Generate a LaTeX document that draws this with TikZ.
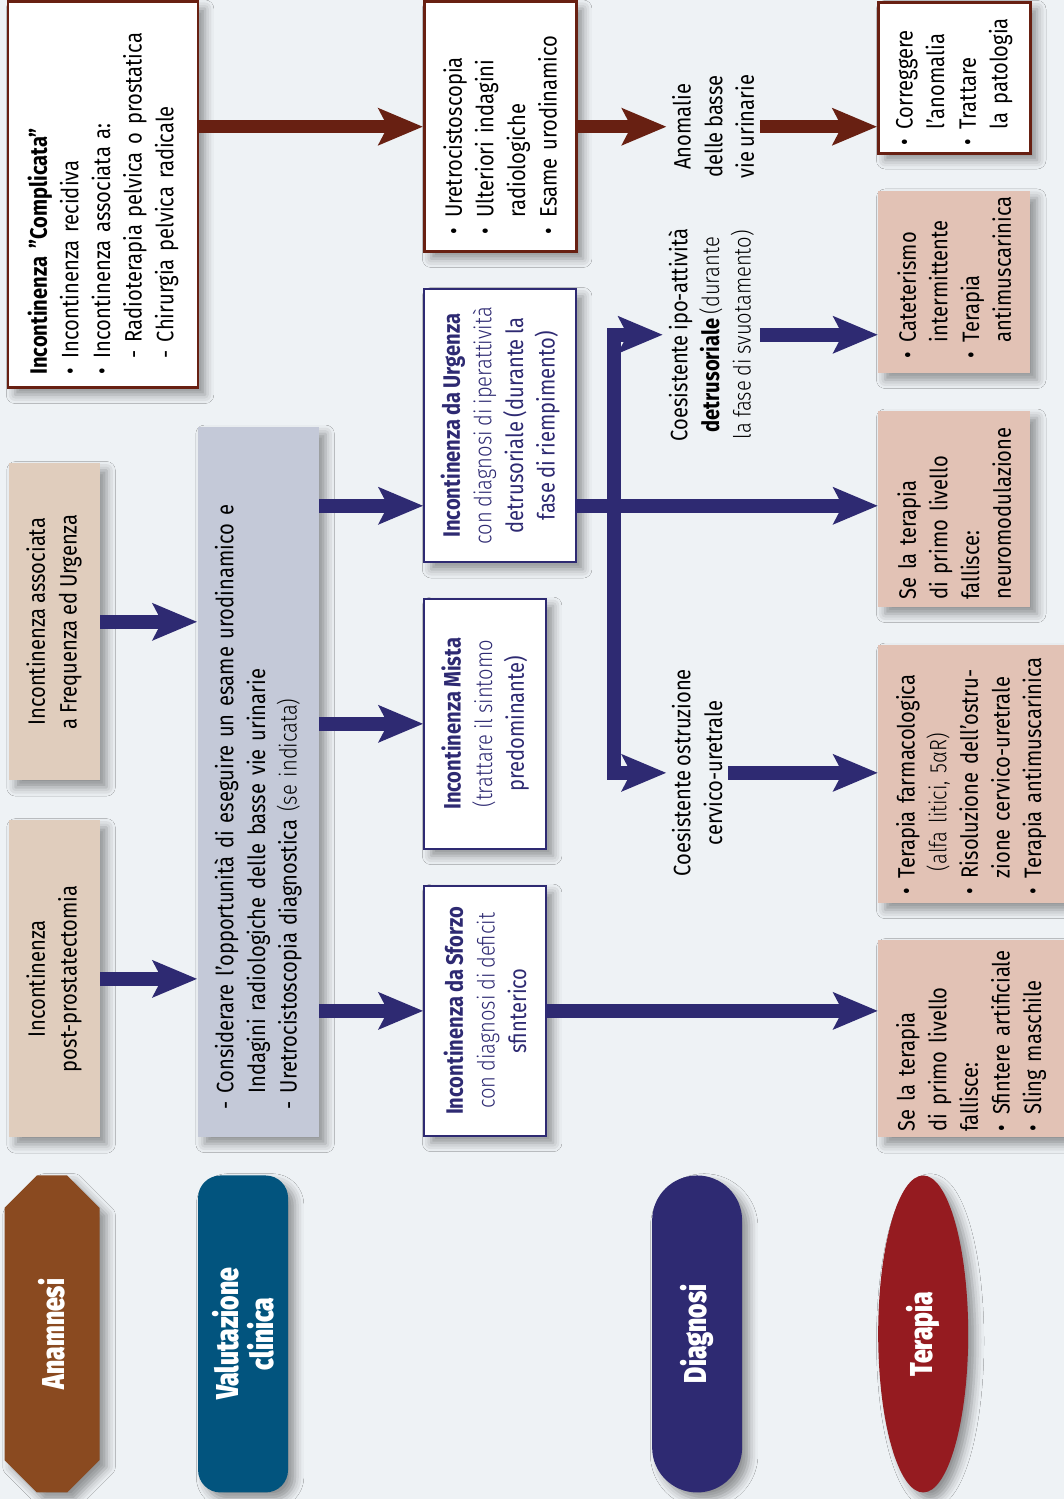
\documentclass[tikz,border=0pt]{standalone}
\usepackage{fontspec}
\setmainfont{Fira Sans}[FakeStretch=0.85, WordSpace=0.85]
\newfontfamily\lightfont{Fira Sans Light}[FakeStretch=0.85, WordSpace=0.85]
\newfontfamily\labelfont{Fira Sans Black}[FakeStretch=0.78]
\usetikzlibrary{arrows.meta,shapes.geometric,shapes.misc,shadows.blur}

\definecolor{bgcol}{RGB}{238,242,245}
\definecolor{rust}{RGB}{104,32,18}
\definecolor{navy}{RGB}{46,42,114}
\definecolor{tan}{RGB}{224,205,189}
\definecolor{slate}{RGB}{196,201,216}
\definecolor{blush}{RGB}{226,194,181}
\definecolor{labbrown}{RGB}{138,74,32}
\definecolor{labteal}{RGB}{2,84,126}
\definecolor{labred}{RGB}{149,27,32}

\newcommand{\bul}{\makebox[0.7em][l]{\textbullet}}
\newcommand{\ind}{\hspace*{0.7em}}

\begin{document}
\begin{tikzpicture}[line width=0.7pt]
  % sfondo
  \fill[bgcol] (0,0) rectangle (21.28,29.98);
  \useasboundingbox (0,0) rectangle (21.28,29.98);

  % tutto il diagramma e' ruotato di 90 gradi
  \begin{scope}[x=0.02cm, y=0.02cm, rotate=90, transform shape,
      font={\fontsize{13.5}{18}\selectfont\hyphenpenalty=10000},
      >={Stealth[length=0.9cm, width=0.76cm, inset=0.2cm, line width=0pt]},
      boxshadow/.style={blur shadow={shadow xshift=4pt, shadow yshift=-4pt,
          shadow blur radius=5pt, shadow opacity=40}},
      rustbox/.style={boxshadow, fill=white, draw=rust, line width=1.6pt,
          align=left, inner ysep=0pt},
      navybox/.style={boxshadow, fill=white, draw=navy, line width=1.3pt,
          text=navy, align=center, minimum width=5cm, minimum height=2.44cm},
      tanbox/.style={boxshadow, fill=tan, align=center,
          minimum width=6.34cm, minimum height=1.82cm},
      pinkbox/.style={boxshadow, fill=blush, align=left, inner ysep=0pt},
      note/.style={align=center, inner sep=3pt},
      tag/.style={boxshadow, fill=#1, text=white, minimum width=6.34cm,
          minimum height=1.8cm, inner sep=0pt, align=center,
          font=\labelfont\fontsize{18}{20}\selectfont},
      rustarrow/.style={draw=rust, line width=0.27cm, ->},
      navyarrow/.style={draw=navy, line width=0.28cm, ->}]

    % Anamnesi
    \node[tanbox] (freq) at (877,-54) {Incontinenza associata\\a Frequenza ed Urgenza};
    \node[tanbox] (post) at (520,-54) {Incontinenza\\post-prostatectomia};

    % incontinenza complicata
    \node[rustbox, text width=7.2cm, inner xsep=0.26cm, minimum height=3.8cm] (cmp) at (1304,-103)
      {{\bfseries Incontinenza ”Complicata”}\\
       \bul Incontinenza recidiva\\
       \bul Incontinenza associata a:\\
       \ind- Radioterapia pelvica o prostatica\\
       \ind- Chirurgia pelvica radicale};
    \node[rustbox, text width=4.3cm, inner xsep=0.35cm, minimum height=3.04cm] (uro) at (1372,-500)
      {\bul Uretrocistoscopia\\ \bul Ulteriori indagini\\ \ind radiologiche\\ \bul Esame urodinamico};
    \node[note] (anom) at (1372,-713) {Anomalie\\delle basse\\vie urinarie};
    \node[rustbox, text width=2.72cm, inner xsep=0.15cm, minimum height=3.04cm] (corr) at (1421,-954)
      {\bul Correggere\\ \ind l’anomalia\\ \bul Trattare\\ \ind la patologia};

    % Valutazione clinica
    \node[boxshadow, fill=slate, align=left, text width=13.1cm, inner xsep=0.55cm,
        minimum height=2.42cm] (val) at (717,-258)
      {- Considerare l’opportunità di eseguire un esame urodinamico e\\
       \phantom{- }Indagini radiologiche delle basse vie urinarie\\
       - Uretrocistoscopia diagnostica {\lightfont (se indicata)}};

    % Diagnosi
    \node[navybox, minimum width=5.46cm, minimum height=3.04cm] (urg) at (1073,-500)
      {{\bfseries Incontinenza da Urgenza}\\ \lightfont con diagnosi di iperattività\\
       detrusoriale (durante la\\ fase di riempimento)};
    \node[navybox] (mista) at (775,-485)
      {{\bfseries Incontinenza Mista}\\ \lightfont (trattare il sintomo\\ predominante)};
    \node[navybox] (sfz) at (488,-485)
      {{\bfseries Incontinenza da Sforzo}\\ \lightfont con diagnosi di deficit\\ sfinterico};
    \node[note] (ipo) at (1164,-711)
      {Coesistente ipo-attività\\ {\bfseries detrusoriale} {\lightfont (durante}\\
       {\lightfont la fase di svuotamento)}};
    \node[note] (ostr) at (726,-697) {Coesistente ostruzione\\ cervico-uretrale};
    \coordinate (bar) at (993,-614);

    % Terapia
    \node[pinkbox, text width=3.08cm, inner xsep=0.28cm, minimum height=3.04cm] (cat) at (1217,-954)
      {\bul Cateterismo\\ \ind intermittente\\ \bul Terapia\\ \ind antimuscarinica};
    \node[pinkbox, text width=3.64cm, inner xsep=0.14cm, minimum height=3.04cm] (neuro) at (990,-954)
      {Se la terapia\\ di primo livello\\ fallisce:\\ neuromodulazione};
    \node[pinkbox, text width=4.84cm, inner xsep=0.16cm, minimum height=3.72cm] (farm) at (725,-971)
      {\bul Terapia farmacologica\\ \hspace*{1em}{\lightfont (alfa litici, 5αR)}\\
       \bul Risoluzione dell’ostru-\\ \ind zione cervico-uretrale\\ \bul Terapia antimuscarinica};
    \node[pinkbox, text width=3.7cm, inner xsep=0.12cm, minimum height=3.72cm] (sfzt) at (460,-971)
      {Se la terapia\\ di primo livello\\ fallisce:\\ \bul Sfintere artificiale\\ \bul Sling maschile};

    % etichette delle fasi
    \node[tag=labbrown, chamfered rectangle, chamfered rectangle xsep=0.38cm,
        chamfered rectangle ysep=0.38cm, minimum height=1.9cm] (lanam) at (165,-52) {Anamnesi};
    \node[tag=labteal, rounded corners=0.45cm] (lval) at (165,-243) {Valutazione\\clinica};
    \node[tag=navy, rounded corners=0.9cm] (ldia) at (165,-697) {Diagnosi};
    \node[tag=labred, ellipse] (lter) at (165,-923) {Terapia};

    % frecce
    \draw[rustarrow] (uro.north |- cmp.south) -- (uro.north);
    \draw[rustarrow] (uro.south) -- (anom.north);
    \draw[rustarrow] (anom.south) -- (anom.south |- corr.north);
    \draw[navyarrow] (freq.south) -- (freq.south |- val.north);
    \draw[navyarrow] (post.south) -- (post.south |- val.north);
    \draw[navyarrow] (bar |- val.south) -- (bar |- urg.north);
    \draw[navyarrow] (mista.north |- val.south) -- (mista.north);
    \draw[navyarrow] (sfz.north |- val.south) -- (sfz.north);
    \draw[navyarrow] (bar |- urg.south) -- (bar |- neuro.north);
    \draw[navyarrow, <->] (ipo.north) |- (bar) -| (ostr.north);
    \draw[navyarrow] (ipo.south) -- (ipo.south |- cat.north);
    \draw[navyarrow] (ostr.south) -- (ostr.south |- farm.north);
    \draw[navyarrow] (sfz.south) -- (sfz.south |- sfzt.north);
  \end{scope}
\end{tikzpicture}
\end{document}
